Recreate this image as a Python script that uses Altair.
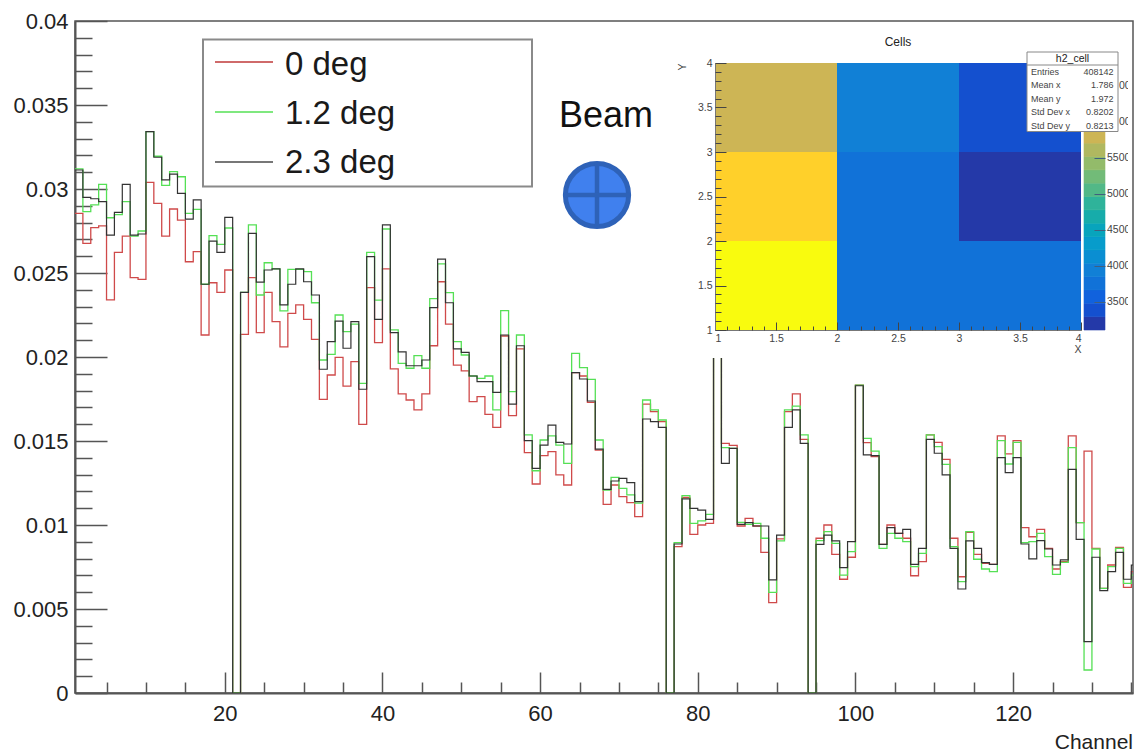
import altair as alt
import pandas as pd

# ---- main histogram values (bin 1 .. 135)
red = [.02855,.02676,.0277,.0278,.0234,.02623,.0272,.02472,.02462,.0304,
       .02915,.0272,.02881,.02815,.02567,.02627,.02131,.02442,.02385,.02518,
       0,.02135,.02472,.02145,.02385,.0221,.0206,.0226,.0231,.02224,
       .02105,.01748,.01893,.01998,.01827,.01972,.01599,.02413,.02085,.02524,
       .01929,.0178,.01744,.01685,.0178,.02067,.02448,.02196,.01952,.01917,
       .01734,.01764,.01659,.01581,.02125,.01651,.02048,.01431,.01244,.01413,
       .01437,.01298,.01238,.01907,.01887,.0173,.01446,.01123,.01238,.01169,
       .01133,.0105,.0172,.01675,.01615,0,.00871,.01165,.00944,.01,
       .0101,.024,.01486,.01474,.00994,.0104,.00994,.00837,.00538,.00917,
       .01675,.0178,.0151,0,.00921,.01,.00825,.00677,.00808,.01833,
       .0149,.01407,.00885,.01,.0095,.00921,.00698,.00782,.01536,.01492,
       .01391,.00921,.00692,.00956,.00825,.00772,.00766,.0153,.01423,.01502,
       .00984,.0093,.00974,.00861,.00738,.00782,.0153,.01014,.0144,.00861,
       .00623,.00762,.00867,.00629,.00722]
green = [.0312,.02865,.02905,.03028,.02829,.02847,.02925,.0272,.0275,.03341,
         .03195,.03022,.03103,.03073,.02855,.02879,.02433,.02722,.0267,.02768,
         0,.02385,.02786,.02369,.02561,.02524,.02274,.02522,.02522,.02508,
         .02323,.01982,.02016,.0225,.02151,.02196,.01843,.02623,.02339,.02762,
         .02161,.01962,.01933,.02008,.01933,.02347,.02554,.02383,.02091,.02012,
         .01887,.01873,.01887,.01685,.02276,.01794,.02131,.01536,.01323,.01506,
         .0153,.01476,.01367,.02022,.01937,.01867,.01506,.01208,.01284,.01218,
         .01179,.0113,.01744,.01685,.01625,0,.00895,.01175,.0101,.01024,
         .01063,.024,.0146,.01456,.01016,.01004,.0101,.00921,.00599,.00905,
         .01685,.01708,.01536,0,.00907,.0096,.00891,.00702,.00841,.01833,
         .01516,.0144,.00861,.0095,.00921,.00901,.00752,.00831,.01536,.01466,
         .01361,.00871,.00663,.0096,.00796,.00738,.00722,.01502,.01363,.01492,
         .00895,.00901,.0095,.00812,.00706,.00778,.0146,.01014,.00137,.00857,
         .00623,.00752,.00861,.00653,.00702]
black = [.03113,.0295,.02942,.02925,.02726,.02861,.03028,.02726,.02732,.03341,
         .03189,.03054,.03089,.02974,.02821,.02935,.02433,.0269,.02623,.02831,
         0,.02385,.02736,.02446,.02518,.02524,.0231,.02433,.02524,.02448,
         .02369,.01927,.02091,.02214,.02052,.0221,.01808,.02597,.02224,.02786,
         .02145,.0203,.01948,.01948,.01982,.02294,.02583,.02323,.02048,.02028,
         .01887,.01853,.01853,.0179,.02131,.0172,.02067,.01502,.01337,.01476,
         .01595,.01492,.01482,.01907,.01869,.01738,.01452,.01212,.01262,.01278,
         .01252,.01139,.01631,.01615,.01581,0,.00887,.01155,.01099,.01089,
         .01034,.024,.01367,.01456,.01004,.01014,.00994,.00994,.00673,.0094,
         .01581,.01685,.01486,0,.00885,.0094,.00905,.00746,.00901,.01829,
         .01417,.01413,.00885,.00984,.0095,.00974,.00766,.00861,.0151,.01427,
         .01298,.00861,.00619,.00905,.00861,.00776,.00766,.01401,.01312,.01401,
         .00887,.00798,.00907,.00857,.00762,.00792,.01331,.00915,.00306,.00808,
         .00609,.00722,.00837,.00677,.00762]
series_names = ["0 deg", "1.2 deg", "2.3 deg"]

x_major = [20, 40, 60, 80, 100, 120]
x_minor = [5, 10, 15, 25, 30, 35, 45, 50, 55, 65, 70, 75, 85, 90, 95, 105, 110, 115, 125, 130, 135]
y_major = [0, .005, .01, .015, .02, .025, .03, .035, .04]
y_minor = [.001, .002, .003, .004, .006, .007, .008, .009, .011, .012, .013, .014, .016, .017, .018, .019,
           .021, .022, .023, .024, .026, .027, .028, .029, .031, .032, .033, .034, .036, .037, .038, .039]

# ---- inset 2D histogram
cell_x0 = [1, 1, 1, 2, 2, 2, 3, 3, 3]
cell_y0 = [1, 2, 3, 1, 2, 3, 1, 2, 3]
cell_v = [6700, 6350, 5780, 3770, 3770, 3950, 3770, 3200, 3400]
levels = [3115, 3300, 3485, 3670, 3855, 4040, 4225, 4410, 4595, 4780, 4965,
          5150, 5335, 5520, 5705, 5890, 6075, 6260, 6445, 6630, 6815]
palette = ["#2439a8", "#1450cf", "#1162dd", "#1172d8", "#1180d6", "#0a8ed2", "#079ccb",
           "#08a4bc", "#17acaa", "#2fb39a", "#52b887", "#72bb78", "#93bb6a", "#b0b860",
           "#cdb555", "#e6bb42", "#f5c531", "#ffd02a", "#fce31c", "#f9fb0e"]
cb_labels = [3500, 4000, 4500, 5000, 5500]
cb_tail_values = [6000, 6500]
cb_tail_texts = ["00", "00"]
inset_major = [1, 1.5, 2, 2.5, 3, 3.5, 4]
inset_minor = [1.1, 1.2, 1.3, 1.4, 1.6, 1.7, 1.8, 1.9, 2.1, 2.2, 2.3, 2.4, 2.6, 2.7, 2.8, 2.9,
               3.1, 3.2, 3.3, 3.4, 3.6, 3.7, 3.8, 3.9]
stat_names = ["Entries", "Mean x", "Mean y", "Std Dev x", "Std Dev y"]
stat_values = ["408142", "1.786", "1.972", "0.8202", "0.8213"]

# ---- layout
W, H = 1058, 672
OX, OY = 75, 21        # plot origin in picture coordinates
X_END = 135.21         # the picture can't reach beyond its right-hand margin
FONT = "Liberation Sans"
AXC = "#555555"


def px(x):
    return x - OX


def py(y):
    return y - OY


main_x = alt.Scale(domain=[1, X_END], range=[0, W], nice=False, zero=False)
main_y = alt.Scale(domain=[0, .04], range=[H, 0], nice=False, zero=False)
in_x = alt.Scale(domain=[1, 4], range=[px(715), px(1081)], nice=False, zero=False)
in_y = alt.Scale(domain=[1, 4], range=[py(330), py(63)], nice=False, zero=False)
cb_x = alt.Scale(domain=[0, 1], range=[px(1084), px(1105)], nice=False, zero=False)
cb_y = alt.Scale(domain=[levels[0], levels[-1]], range=[py(330), py(63)], nice=False, zero=False)
col = alt.Scale(type="threshold", domain=levels[1:-1], range=palette)
one = alt.Data(values=[{"a": 0}])


def xaxis(values, scale, **kw):
    d = pd.DataFrame({"v": values})
    return alt.Chart(d).mark_point(opacity=0).encode(
        x=alt.X("v:Q", scale=scale, axis=alt.Axis(values=values, title=None, grid=False, **kw)))


def yaxis(values, scale, **kw):
    d = pd.DataFrame({"v": values})
    return alt.Chart(d).mark_point(opacity=0).encode(
        y=alt.Y("v:Q", scale=scale, axis=alt.Axis(values=values, title=None, grid=False, **kw)))


def hist(vals, color, width):
    d = pd.DataFrame({"x": list(range(1, len(vals) + 2)), "y": list(vals) + [vals[-1]]})
    return alt.Chart(d).mark_line(interpolate="step-after", color=color, strokeWidth=width, clip=True).encode(
        x=alt.X("x:Q", scale=main_x, axis=None),
        y=alt.Y("y:Q", scale=main_y, axis=None))


def label(text, x, y, size, align="left", color="#111111", font=FONT, angle=0, baseline="alphabetic"):
    return alt.Chart(one).mark_text(text=text, align=align, baseline=baseline, fontSize=size, font=font,
                                    color=color, angle=angle).encode(
        x=alt.value(px(x)), y=alt.value(py(y)))


def box(x0, x1, y0, y1, fill="white", stroke=None, sw=0):
    kw = {"stroke": stroke, "strokeWidth": sw} if stroke else {}
    return alt.Chart(one).mark_rect(fill=fill, **kw).encode(
        x=alt.value(px(x0)), x2=alt.value(px(x1)), y=alt.value(py(y0)), y2=alt.value(py(y1)))


def seg(x0, x1, y0, y1, color, sw):
    return alt.Chart(one).mark_rule(color=color, strokeWidth=sw).encode(
        x=alt.value(px(x0)), x2=alt.value(px(x1)), y=alt.value(py(y0)), y2=alt.value(py(y1)))


layers = []
# main axes
layers += [
    xaxis(x_major, main_x, orient="bottom", ticks=False, tickSize=0, domainColor=AXC, domainWidth=2,
          format="d", labelFont=FONT, labelFontSize=22, labelColor="#222222", labelPadding=10),
    yaxis(y_major, main_y, orient="left", ticks=False, tickSize=0, domainColor=AXC, domainWidth=2,
          format=".3~f", labelFont=FONT, labelFontSize=22, labelColor="#222222", labelPadding=7),
    xaxis(x_major, main_x, orient="top", offset=-H, tickSize=21, labels=False, domain=False,
          tickColor=AXC, tickWidth=1.5),
    xaxis(x_minor, main_x, orient="top", offset=-H, tickSize=11, labels=False, domain=False,
          tickColor=AXC, tickWidth=1.5),
    yaxis(y_major, main_y, orient="right", offset=-W, tickSize=32, labels=False, domain=False,
          tickColor=AXC, tickWidth=1.5),
    yaxis(y_minor, main_y, orient="right", offset=-W, tickSize=17, labels=False, domain=False,
          tickColor=AXC, tickWidth=1.5),
]
# main histograms
layers += [hist(red, "#cf4a4a", 1.3), hist(green, "#55e055", 1.3), hist(black, "#333333", 1.2)]

# inset frame and content
layers.append(box(672, 1132, 22, 358))
cells = pd.DataFrame({"x0": cell_x0, "x1": [v + 1 for v in cell_x0],
                      "y0": cell_y0, "y1": [v + 1 for v in cell_y0], "v": cell_v})
layers.append(alt.Chart(cells).mark_rect().encode(
    x=alt.X("x0:Q", scale=in_x, axis=None), x2="x1:Q",
    y=alt.Y("y0:Q", scale=in_y, axis=None), y2="y1:Q",
    color=alt.Color("v:Q", scale=col, legend=None)))
cbd = pd.DataFrame({"lo": levels[:-1], "hi": levels[1:], "a": [0] * 20, "b": [1] * 20})
layers.append(alt.Chart(cbd).mark_rect(strokeWidth=0.6).encode(
    x=alt.X("a:Q", scale=cb_x, axis=None), x2="b:Q",
    y=alt.Y("lo:Q", scale=cb_y, axis=None), y2="hi:Q",
    color=alt.Color("lo:Q", scale=col, legend=None),
    stroke=alt.Stroke("lo:Q", scale=col, legend=None)))

IC = "#444444"
layers += [
    xaxis(inset_major, in_x, orient="bottom", offset=-(H - py(330)), ticks=False, tickSize=0, zindex=1,
          domainColor="#777777", domainWidth=1, format="~g", labelFont=FONT, labelFontSize=10.5,
          labelColor=IC, labelPadding=3),
    yaxis(inset_major, in_y, orient="left", offset=-px(715), ticks=False, tickSize=0, zindex=1,
          domainColor="#777777", domainWidth=1, format="~g", labelFont=FONT, labelFontSize=10.5,
          labelColor=IC, labelPadding=3),
    xaxis(inset_major, in_x, orient="top", offset=-py(330), tickSize=8, labels=False, domain=False, zindex=1,
          tickColor=IC, tickWidth=1),
    xaxis(inset_minor, in_x, orient="top", offset=-py(330), tickSize=4, labels=False, domain=False, zindex=1,
          tickColor=IC, tickWidth=1),
    yaxis(inset_major, in_y, orient="right", offset=px(715) - W, tickSize=11, labels=False, domain=False, zindex=1,
          tickColor=IC, tickWidth=1),
    yaxis(inset_minor, in_y, orient="right", offset=px(715) - W, tickSize=6, labels=False, domain=False, zindex=1,
          tickColor=IC, tickWidth=1),
    yaxis(cb_labels, cb_y, orient="left", offset=-px(1105), tickSize=11, labels=False, domain=False, zindex=1,
          tickColor="#3f5f7f", tickWidth=1),
]
# colour-bar labels: cropped by the inset's right edge
cbl = pd.DataFrame({"v": cb_labels, "t": [str(v) for v in cb_labels]})
layers.append(alt.Chart(cbl).mark_text(align="left", baseline="middle", font=FONT, fontSize=10.5, color=IC).encode(
    x=alt.value(px(1107)), y=alt.Y("v:Q", scale=cb_y, axis=None), text="t:N"))
cbt = pd.DataFrame({"v": cb_tail_values, "t": cb_tail_texts})
layers.append(alt.Chart(cbt).mark_text(align="left", baseline="middle", font=FONT, fontSize=10.5, color=IC).encode(
    x=alt.value(px(1119)), y=alt.Y("v:Q", scale=cb_y, axis=None), text="t:N"))
layers.append(box(1128, 1132, 22, 358))
layers += [
    label("Cells", 898, 46, 12, align="center", color="#222222"),
    label("X", 1078, 353, 10.5, align="center", color=IC),
    label("Y", 686, 67, 10.5, align="center", color=IC, angle=270),
]
# stats box
layers.append(box(1027, 1118, 52, 131.5, stroke="#888888", sw=1))
layers.append(seg(1027, 1118, 65, 65, "#888888", 1))
layers.append(label("h2_cell", 1072.5, 62, 10.5, align="center", color="#222222"))
sd = pd.DataFrame({"n": stat_names, "v": stat_values, "r": [5, 4, 3, 2, 1]})
row_y = alt.Scale(domain=[1, 5], range=[py(128.5), py(75)], nice=False, zero=False)
layers.append(alt.Chart(sd).mark_text(align="left", baseline="alphabetic", font=FONT, fontSize=9, color=IC).encode(
    x=alt.value(px(1031)), y=alt.Y("r:Q", scale=row_y, axis=None), text="n:N"))
layers.append(alt.Chart(sd).mark_text(align="right", baseline="alphabetic", font=FONT, fontSize=9, color=IC).encode(
    x=alt.value(px(1113.5)), y=alt.Y("r:Q", scale=row_y, axis=None), text="v:N"))

# legend
layers.append(box(203, 532, 39.5, 186.5, stroke="#8a8a8a", sw=2))
for name, c, yline, ytext, lw in zip(series_names, ["#cf6a6a", "#55e055", "#777777"],
                                     [62, 112, 162], [75, 124, 173], [2, 1.5, 2]):
    layers.append(seg(215, 273, yline, yline, c, lw))
    layers.append(label(name, 285, ytext, 33, color="#1a1a1a"))

# beam marker
layers.append(label("Beam", 559, 127, 36, color="#111111"))
layers.append(alt.Chart(one).mark_point(filled=True, fill="#4080ee", stroke="#2e62b8", strokeWidth=5,
                                        shape="circle", size=4000, opacity=1).encode(
    x=alt.value(px(597)), y=alt.value(py(195))))
layers.append(seg(597, 597, 163, 227, "#2e62b8", 4.5))
layers.append(seg(565, 629, 195, 195, "#2e62b8", 4.5))

# x axis title
layers.append(label("Channel", 1133, 749, 21, align="right", color="#222222"))

chart = alt.layer(*layers).resolve_scale(x="independent", y="independent", color="independent").properties(
    width=W, height=H,
    autosize=alt.AutoSizeParams(type="none"),
    padding={"left": OX - 8, "top": OY - 8, "right": 1, "bottom": 60},
).configure_view(stroke="#555555", strokeWidth=1.5)

chart.save("out.html", embed_options={"renderer": "svg", "actions": False})
